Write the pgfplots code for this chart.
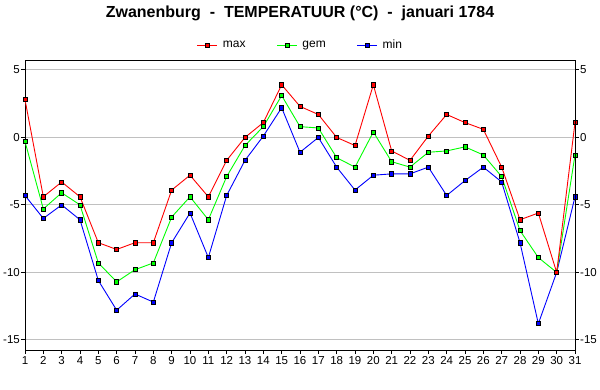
\documentclass[border=0pt]{standalone}
\usepackage{fontspec}
\setmainfont{Liberation Sans}
\usepackage{pgfplots}
\pgfplotsset{compat=1.18}
\usepackage{pgfplotstable}

\definecolor{cmax}{RGB}{255,0,0}
\definecolor{cgem}{RGB}{0,255,0}
\definecolor{cmin}{RGB}{0,0,255}
\definecolor{gridgray}{RGB}{192,192,192}

\pgfplotstableread{
day max gem min
1 2.8 -0.3 -4.3
2 -4.4 -5.3 -6.0
3 -3.3 -4.1 -5.0
4 -4.4 -5.0 -6.1
5 -7.8 -9.3 -10.6
6 -8.3 -10.7 -12.8
7 -7.8 -9.8 -11.6
8 -7.8 -9.3 -12.2
9 -3.9 -5.9 -7.8
10 -2.8 -4.4 -5.6
11 -4.4 -6.1 -8.9
12 -1.7 -2.9 -4.3
13 0.0 -0.6 -1.7
14 1.1 0.8 0.1
15 3.9 3.1 2.2
16 2.3 0.8 -1.1
17 1.7 0.7 0.0
18 0.0 -1.5 -2.2
19 -0.6 -2.2 -3.9
20 3.9 0.4 -2.8
21 -1.0 -1.8 -2.7
22 -1.7 -2.2 -2.7
23 0.1 -1.1 -2.2
24 1.7 -1.0 -4.3
25 1.1 -0.7 -3.2
26 0.6 -1.3 -2.2
27 -2.2 -2.9 -3.3
28 -6.1 -6.9 -7.8
29 -5.6 -8.9 -13.8
30 -10.0 -10.0 -10.0
31 1.1 -1.3 -4.4
}\temps

\pgfplotsset{
  common/.style={
    scale only axis,
    width=550bp, height=289.5bp,
    xmin=1, xmax=31, ymin=-15.75, ymax=5.7,
    ytick={-15,-10,-5,0,5},
    xtick={1,...,31},
    tick align=outside,
    major tick length=4bp,
    axis line style={black, line width=1bp},
    every tick/.style={black, line width=1bp},
    /pgf/number format/assume math mode=true,
    ticklabel style={font=\fontsize{11.5bp}{13bp}\selectfont},
    yticklabel style={inner sep=1bp},
    xticklabel style={inner sep=2.5bp},
  },
  mk/.style={mark=square*, mark size=2.1bp, line width=0.9bp, color=#1,
    mark options={fill=#1, draw=black, line width=0.6bp, solid}},
}

\begin{document}
\begin{tikzpicture}
\path[use as bounding box] (0bp,0bp) rectangle (600bp,390bp);
\node[anchor=base, font=\fontsize{16bp}{19bp}\selectfont\bfseries] at (300bp,372.7bp)
  {Zwanenburg\ \ -\ \ TEMPERATUUR (°C)\ \ -\ \ januari 1784};

\begin{axis}[common,
  at={(25bp,40bp)}, anchor=south west,
  ytick pos=left, xtick pos=bottom,
  ymajorgrids, major grid style={gridgray, line width=1bp},
  legend columns=3,
  legend style={draw=none, fill=none, at={(0.5,1.0535)}, anchor=center,
    font=\fontsize{12bp}{14bp}\selectfont,
    nodes={inner sep=1bp},
    /tikz/every odd column/.append style={column sep=4bp},
    /tikz/every even column/.append style={column sep=30bp}},
  legend image code/.code={\draw[mark repeat=2, mark phase=2, #1] plot coordinates {(0bp,0bp) (10bp,0bp) (20bp,0bp)};},
]
\addlegendimage{mk=cmax}
\addlegendentry{max}
\addlegendimage{mk=cgem}
\addlegendentry{gem}
\addlegendimage{mk=cmin}
\addlegendentry{min}
\addplot[mk=cmin, forget plot] table[x=day, y=min] {\temps};
\addplot[mk=cgem, forget plot] table[x=day, y=gem] {\temps};
\addplot[mk=cmax, forget plot] table[x=day, y=max] {\temps};
\end{axis}

\begin{axis}[common,
  at={(25bp,40bp)}, anchor=south west,
  hide x axis,
  axis y line*=right,
  ytick pos=right, yticklabel pos=right,
]
\end{axis}
\end{tikzpicture}
\end{document}
